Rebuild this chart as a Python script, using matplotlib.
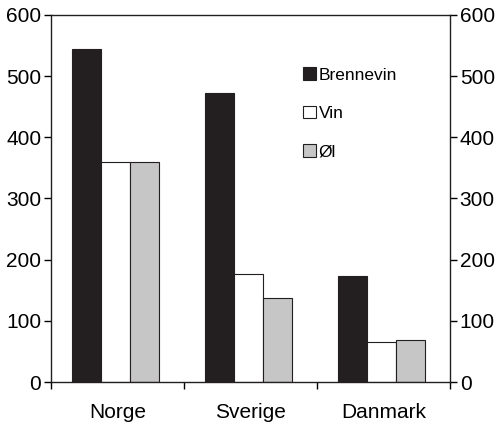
import matplotlib.pyplot as plt
import numpy as np
from matplotlib.patches import Patch

plt.rcParams['font.family'] = ['Liberation Sans', 'DejaVu Sans']

countries = ['Norge', 'Sverige', 'Danmark']
series = ['Brennevin', 'Vin', 'Øl']
brennevin = [545, 473, 174]
vin = [360, 177, 65]
ol = [360, 137, 68]
colors = ['#231f20', '#ffffff', '#c6c6c6']

fig = plt.figure(figsize=(5, 4.25), dpi=100)
ax = fig.add_axes([0.102, 0.101, 0.798, 0.864])

x = np.arange(len(countries))
w = 0.218
for i, vals in enumerate([brennevin, vin, ol]):
    ax.bar(x - 0.012 + (i - 1) * w, vals, w, color=colors[i], edgecolor='#231f20', linewidth=0.8)

ax.set_xlim(-0.5, 2.5)
ax.set_ylim(0, 600)
ax.set_yticks(np.arange(0, 601, 100))
ax.tick_params(axis='y', which='both', labelsize=15, length=5, width=1, direction='out',
               right=True, labelright=True, pad=2)
# boundary ticks between the groups, labels centred under groups
ax.set_xticks([-0.5, 0.5, 1.5, 2.5])
ax.set_xticklabels([])
ax.set_xticks(x, minor=True)
ax.set_xticklabels(countries, minor=True)
ax.tick_params(axis='x', which='major', length=5, width=1, direction='out')
ax.tick_params(axis='x', which='minor', length=0, labelsize=15, pad=15)
for s in ax.spines.values():
    s.set_linewidth(1)
    s.set_color('#231f20')

handles = [Patch(facecolor=c, edgecolor='#231f20', linewidth=0.8) for c in colors]
ax.legend(handles, series, loc='upper left', bbox_to_anchor=(0.592, 0.9), frameon=False,
          fontsize=12.5, handlelength=0.75, handleheight=0.75, handletextpad=0.15,
          labelspacing=1.32)

fig.savefig('out.png', dpi=100)
